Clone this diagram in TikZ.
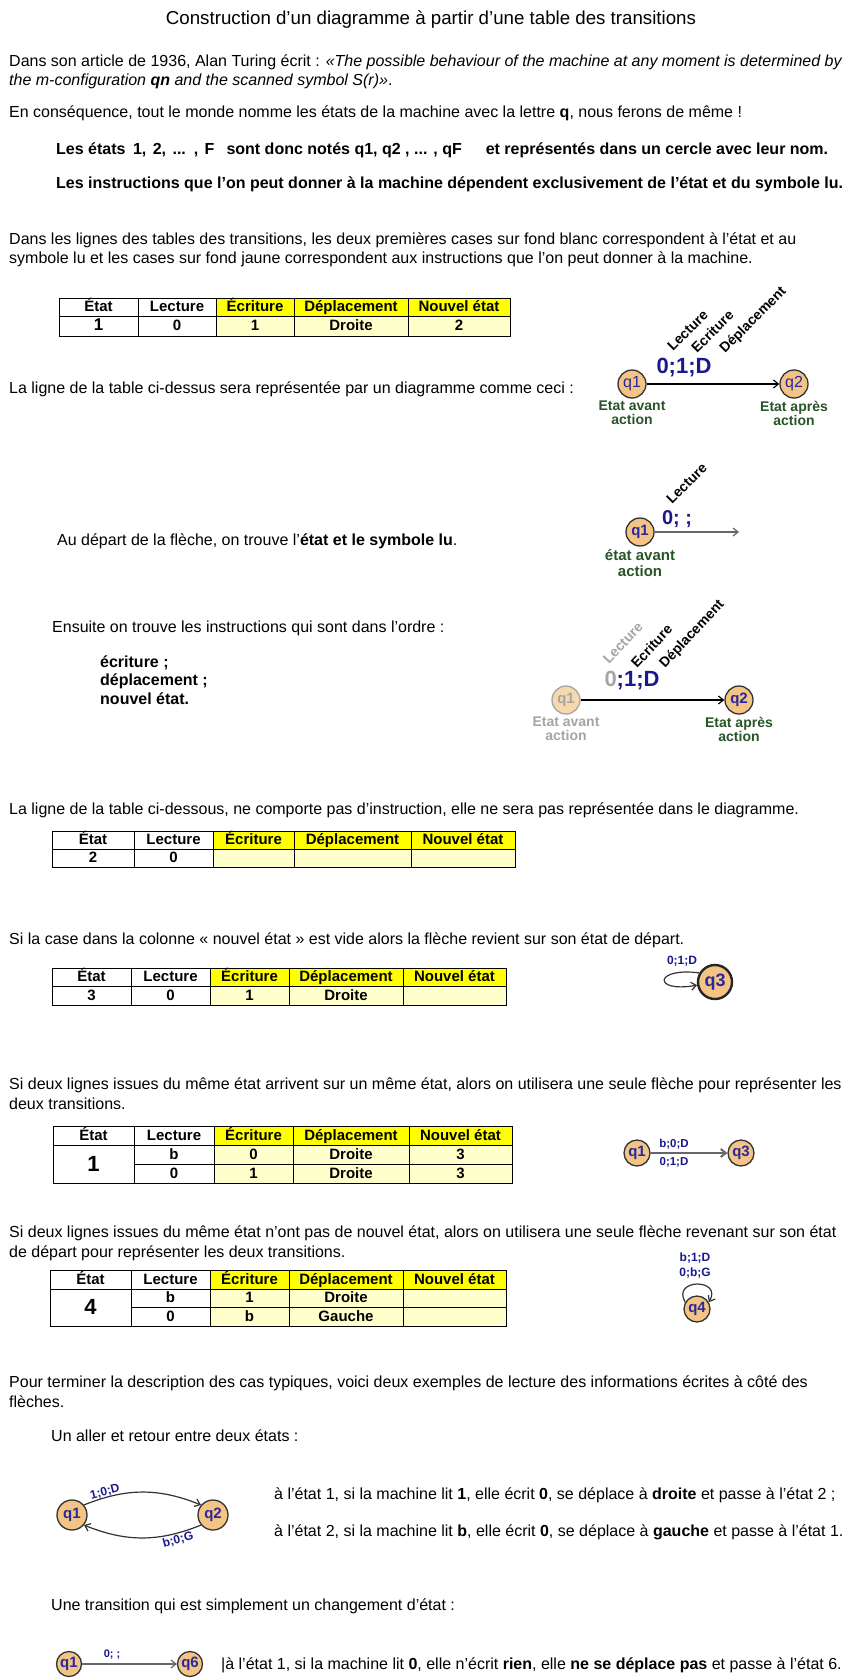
\documentclass[tikz,border=0pt]{standalone}
\usepackage{fontspec}
\setmainfont{Liberation Sans}
\usepackage{tikz}
\usetikzlibrary{arrows.meta,positioning,calc}
\definecolor{stfill}{RGB}{243,196,132}
\definecolor{stblue}{RGB}{40,40,160}
\definecolor{lblue}{RGB}{25,25,140}
\definecolor{stgreen}{RGB}{40,85,40}
\definecolor{hdyel}{RGB}{255,255,0}
\definecolor{rowyel}{RGB}{255,255,204}
\definecolor{fade}{RGB}{165,165,165}
\tikzset{
  txt/.style={anchor=base west, inner sep=0pt, align=left, font=\fontsize{16}{19.3}\selectfont},
  btxt/.style={txt, font=\fontsize{16}{18.5}\selectfont\bfseries},
  cellb/.style={rectangle, draw=black, line width=0.8pt, inner sep=0pt,
                text height=11pt, text depth=2pt, font=\fontsize{15}{15}\selectfont\bfseries},
  hw/.style={cellb, fill=white},
  hy/.style={cellb, fill=hdyel},
  cw/.style={cellb, fill=white},
  cy/.style={cellb, fill=rowyel},
  qstate/.style={circle, draw=black!80, line width=1.3pt, fill=stfill, text=stblue,
                 inner sep=0pt, minimum size=26pt, font=\fontsize{15}{15}\selectfont\bfseries},
  ar/.style={-{Straight Barb[length=5pt,width=8pt]}, line width=1.2pt, draw=black!80},
  arg/.style={ar, draw=black!60},
  lbl/.style={text=lblue, inner sep=0pt, font=\fontsize{12}{15}\selectfont\bfseries},
  big/.style={text=lblue, inner sep=0pt, font=\fontsize{22}{22}\selectfont\bfseries},
  rlbl/.style={rotate=45, anchor=base west, inner sep=0pt, font=\fontsize{14}{14}\selectfont\bfseries},
  under/.style={anchor=north, align=center, inner sep=0pt, text=stgreen,
                font=\fontsize{14}{14.5}\selectfont\bfseries}
}
% table cell: style, name, x1, y1, x2, y2, text
\newcommand{\tcell}[7]{\node[#1, minimum width={(#5-#3)*1pt}, minimum height={(#6-#4)*1pt}] (#2) at ({(#3+#5)/2},{(#4+#6)/2}) {#7};}

\begin{document}
\begin{tikzpicture}[x=1pt, y=-1pt]
\fill[white] (0,0) rectangle (850,1680);
\useasboundingbox (0,0) rectangle (850,1680);

% texte
\node[font=\fontsize{18.7}{20}\selectfont, inner sep=0pt] (title) at (431,20) {Construction d’un diagramme à partir d’une table des transitions};
\node[txt] (p1) at (9,86) {Dans son article de 1936, Alan Turing écrit : \textit{«The possible behaviour of the machine at any moment is determined by}\\\textit{the m-configuration \textbf{qn} and the scanned symbol S(r)»}.};
\node[txt] (p2) at (9,118) {En conséquence, tout le monde nomme les états de la machine avec la lettre \textbf{q}, nous ferons de même !};
\node[btxt] (b1) at (56,155) {Les états\hspace{3pt} 1,\hspace{2pt} 2,\hspace{2pt} ...\hspace{2pt} ,\hspace{2pt} F\hspace{12pt}sont donc notés q1, q2 , ... , qF\hspace{24pt}et représentés dans un cercle avec leur nom.};
\node[btxt] (b2) at (56,189) {Les instructions que l’on peut donner à la machine dépendent exclusivement de l’état et du symbole lu.};
\node[txt] (p3) at (9,264) {Dans les lignes des tables des transitions, les deux premières cases sur fond blanc correspondent à l'état et au\\symbole lu et les cases sur fond jaune correspondent aux instructions que l'on peut donner à la machine.};

% table 1
\tcell{hw}{t1a}{59}{298}{138}{316}{État}
\tcell{hw}{t1b}{138}{298}{216}{316}{Lecture}
\tcell{hy}{t1c}{216}{298}{294}{316}{Écriture}
\tcell{hy}{t1d}{294}{298}{408}{316}{Déplacement}
\tcell{hy}{t1e}{408}{298}{510}{316}{Nouvel état}
\tcell{cw, font=\fontsize{17}{17}\selectfont\bfseries}{t1f}{59}{316}{138}{336}{1}
\tcell{cw}{t1g}{138}{316}{216}{336}{0}
\tcell{cy}{t1h}{216}{316}{294}{336}{1}
\tcell{cy}{t1i}{294}{316}{408}{336}{Droite}
\tcell{cy}{t1j}{408}{316}{510}{336}{2}

\node[txt] (p4) at (9,393) {La ligne de la table ci-dessus sera représentée par un diagramme comme ceci :};

% diagramme 1
\node[qstate, minimum size=28pt, font=\fontsize{16}{16}\selectfont] (d1q1) at (632,384) {q1};
\node[qstate, minimum size=28pt, font=\fontsize{16}{16}\selectfont] (d1q2) at (794,384) {q2};
\draw[ar, draw=black] (d1q1) -- (d1q2);
\node[big] (d1lab) at (684,368) {0;1;D};
\node[rlbl] (d1lec) at (673,352) {Lecture};
\node[rlbl] (d1ecr) at (697,354) {Ecriture};
\node[rlbl] (d1dep) at (725,354) {Déplacement};
\node[under, below=2pt of d1q1] (d1av) {Etat avant\\action};
\node[under, below=2pt of d1q2] (d1ap) {Etat après\\action};

\node[txt] (p5) at (57,545) {Au départ de la flèche, on trouve l'\textbf{état et le symbole lu}.};

% diagramme 2
\node[qstate, minimum size=28pt] (d2q1) at (640,532) {q1};
\coordinate (d2end) at (739,532);
\draw[arg] (d2q1) -- (d2end);
\node[big, font=\fontsize{20}{20}\selectfont\bfseries] (d2lab) at (677,519) {0; ;};
\node[rlbl] (d2lec) at (672,505) {Lecture};
\node[under, below=3pt of d2q1, font=\fontsize{15}{16}\selectfont\bfseries] (d2av) {état avant\\action};

\node[txt] (p6) at (52,632) {Ensuite on trouve les instructions qui sont dans l'ordre :};
\node[btxt] (p7) at (100,704) {écriture ;\\déplacement ;\\nouvel état.};

% diagramme 3
\node[qstate, minimum size=28pt, draw=fade, fill=stfill!65, text=fade] (d3q1) at (566,700) {q1};
\node[qstate, minimum size=28pt] (d3q2) at (739,700) {q2};
\draw[ar, draw=black] (d3q1) -- (d3q2);
\node[big] (d3lab) at (632,681) {\textcolor{fade}{0};1;D};
\node[rlbl, rotate=2, text=fade] (d3lec) at (609,665) {Lecture};
\node[rlbl, rotate=2] (d3ecr) at (637,669) {Ecriture};
\node[rlbl, rotate=2] (d3dep) at (665,669) {Déplacement};
\node[under, text=fade, below=2pt of d3q1] (d3av) {Etat avant\\action};
\node[under, below=2pt of d3q2] (d3ap) {Etat après\\action};

\node[txt] (p8) at (9,814) {La ligne de la table ci-dessous, ne comporte pas d'instruction, elle ne sera pas représentée dans le diagramme.};

% table 2
\tcell{hw}{t2a}{52}{831}{134}{849}{État}
\tcell{hw}{t2b}{134}{831}{213}{849}{Lecture}
\tcell{hy}{t2c}{213}{831}{294}{849}{Écriture}
\tcell{hy}{t2d}{294}{831}{411}{849}{Déplacement}
\tcell{hy}{t2e}{411}{831}{515}{849}{Nouvel état}
\tcell{cw}{t2f}{52}{849}{134}{867}{2}
\tcell{cw}{t2g}{134}{849}{213}{867}{0}
\tcell{cy}{t2h}{213}{849}{294}{867}{}
\tcell{cy}{t2i}{294}{849}{411}{867}{}
\tcell{cy}{t2j}{411}{849}{515}{867}{}

\node[txt] (p9) at (9,944) {Si la case dans la colonne « nouvel état » est vide alors la flèche revient sur son état de départ.};

% table 3
\tcell{hw}{t3a}{52}{968}{131}{986}{État}
\tcell{hw}{t3b}{131}{968}{210}{986}{Lecture}
\tcell{hy}{t3c}{210}{968}{289}{986}{Écriture}
\tcell{hy}{t3d}{289}{968}{403}{986}{Déplacement}
\tcell{hy}{t3e}{403}{968}{506}{986}{Nouvel état}
\tcell{cw}{t3f}{52}{986}{131}{1005}{3}
\tcell{cw}{t3g}{131}{986}{210}{1005}{0}
\tcell{cy}{t3h}{210}{986}{289}{1005}{1}
\tcell{cy}{t3i}{289}{986}{403}{1005}{Droite}
\tcell{cy}{t3j}{403}{986}{506}{1005}{}

% diagramme 4
\node[qstate, minimum size=34pt, line width=2.4pt, draw=black!85, font=\fontsize{18}{18}\selectfont\bfseries] (d4q3) at (715,982) {q3};
\draw[ar] (d4q3.150) .. controls +(-45pt,6pt) and +(-45pt,-8pt) .. (d4q3.190);
\node[lbl] (d4lab) at (682,961) {0;1;D};

\node[txt] (p10) at (9,1109) {Si deux lignes issues du même état arrivent sur un même état, alors on utilisera une seule flèche pour représenter les\\deux transitions.};

% table 4
\tcell{hw}{t4a}{53}{1126}{134}{1145}{État}
\tcell{hw}{t4b}{134}{1126}{214}{1145}{Lecture}
\tcell{hy}{t4c}{214}{1126}{293}{1145}{Écriture}
\tcell{hy}{t4d}{293}{1126}{409}{1145}{Déplacement}
\tcell{hy}{t4e}{409}{1126}{512}{1145}{Nouvel état}
\tcell{cw, font=\fontsize{22}{22}\selectfont\bfseries, text height=16pt}{t4f}{53}{1145}{134}{1183}{1}
\tcell{cw}{t4g}{134}{1145}{214}{1164}{b}
\tcell{cy}{t4h}{214}{1145}{293}{1164}{0}
\tcell{cy}{t4i}{293}{1145}{409}{1164}{Droite}
\tcell{cy}{t4j}{409}{1145}{512}{1164}{3}
\tcell{cw}{t4k}{134}{1164}{214}{1183}{0}
\tcell{cy}{t4l}{214}{1164}{293}{1183}{1}
\tcell{cy}{t4m}{293}{1164}{409}{1183}{Droite}
\tcell{cy}{t4n}{409}{1164}{512}{1183}{3}

% diagramme 5
\node[qstate] (d5q1) at (637,1153) {q1};
\node[qstate] (d5q3) at (741,1153) {q3};
\draw[arg, line width=2pt] (d5q1) -- (d5q3);
\node[lbl, font=\fontsize{11.5}{12}\selectfont\bfseries] (d5a) at (674,1144) {b;0;D};
\node[lbl, font=\fontsize{11.5}{12}\selectfont\bfseries] (d5b) at (674,1162) {0;1;D};

\node[txt] (p11) at (9,1257) {Si deux lignes issues du même état n'ont pas de nouvel état, alors on utilisera une seule flèche revenant sur son état\\de départ pour représenter les deux transitions.};

% table 5
\tcell{hw}{t5a}{50}{1270}{131}{1289}{État}
\tcell{hw}{t5b}{131}{1270}{210}{1289}{Lecture}
\tcell{hy}{t5c}{210}{1270}{289}{1289}{Écriture}
\tcell{hy}{t5d}{289}{1270}{403}{1289}{Déplacement}
\tcell{hy}{t5e}{403}{1270}{506}{1289}{Nouvel état}
\tcell{cw, font=\fontsize{22}{22}\selectfont\bfseries, text height=16pt}{t5f}{50}{1289}{131}{1326}{4}
\tcell{cw}{t5g}{131}{1289}{210}{1307}{b}
\tcell{cy}{t5h}{210}{1289}{289}{1307}{1}
\tcell{cy}{t5i}{289}{1289}{403}{1307}{Droite}
\tcell{cy}{t5j}{403}{1289}{506}{1307}{}
\tcell{cw}{t5k}{131}{1307}{210}{1326}{0}
\tcell{cy}{t5l}{210}{1307}{289}{1326}{b}
\tcell{cy}{t5m}{289}{1307}{403}{1326}{Gauche}
\tcell{cy}{t5n}{403}{1307}{506}{1326}{}

% diagramme 6
\node[qstate] (d6q4) at (697,1309) {q4};
\draw[ar] (d6q4.150) .. controls +(-14pt,24pt) and +(14pt,24pt) .. (d6q4.30);
\node[lbl, align=center] (d6lab) at (695,1266) {b;1;D\\0;b;G};

\node[txt] (p12) at (9,1407) {Pour terminer la description des cas typiques, voici deux exemples de lecture des informations écrites à côté des\\flèches.};
\node[txt] (p13) at (51,1441) {Un aller et retour entre deux états :};

% diagramme 7
\node[qstate, minimum size=30pt] (d7q1) at (72,1515) {q1};
\node[qstate, minimum size=30pt] (d7q2) at (213,1515) {q2};
\draw[ar] (d7q1.40) to[bend left=22] (d7q2.140);
\draw[ar] (d7q2.220) to[bend left=22] (d7q1.320);
\node[lbl, rotate=15] (d7a) at (105,1492) {1;0;D};
\node[lbl, rotate=15] (d7b) at (178,1540) {b;0;G};
\node[txt] (r1) at (274,1499) {à l'état 1, si la machine lit \textbf{1}, elle écrit \textbf{0}, se déplace à \textbf{droite} et passe à l'état 2 ;};
\node[txt] (r2) at (274,1536) {à l'état 2, si la machine lit \textbf{b}, elle écrit \textbf{0}, se déplace à \textbf{gauche} et passe à l'état 1.};

\node[txt] (p14) at (51,1610) {Une transition qui est simplement un changement d'état :};

% diagramme 8
\node[qstate, minimum size=25pt] (d8q1) at (69,1664) {q1};
\node[qstate, minimum size=25pt] (d8q6) at (190,1664) {q6};
\draw[arg] (d8q1) -- (d8q6);
\node[lbl, font=\fontsize{11}{11}\selectfont\bfseries] (d8lab) at (112,1654) {0; ;};
\node[txt] (r3) at (221,1669) {|à l'état 1, si la machine lit \textbf{0}, elle n'écrit \textbf{rien}, elle \textbf{ne se déplace pas} et passe à l'état 6.};
\end{tikzpicture}
\end{document}
